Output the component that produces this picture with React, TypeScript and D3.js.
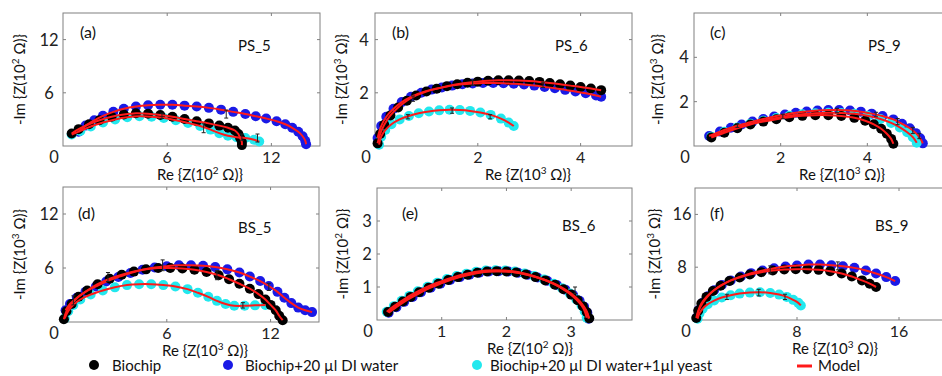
import React from "react";
import * as d3 from "d3";

type P = [number, number];
type E = [number, number, number];

// ---------- Panel (a) PS_5 ----------
const aBlack: P[] = [[0.5,1.4],[0.9,1.9],[1.5,2.45],[2.1,2.9],[2.8,3.3],[3.5,3.55],[4.2,3.7],[4.9,3.65],[5.6,3.5],[6.3,3.3],[7.0,3.05],[7.7,2.8],[8.4,2.55],[9.0,2.3],[9.5,2.05],[9.9,1.75],[10.1,1.35],[10.2,0.9],[10.3,0.45],[10.3,0.1]];
const aBlue: P[] = [[0.9,1.6],[1.3,2.3],[1.8,2.9],[2.3,3.4],[2.9,3.85],[3.5,4.2],[4.2,4.45],[4.9,4.6],[5.6,4.65],[6.3,4.65],[7.0,4.55],[7.7,4.45],[8.4,4.3],[9.1,4.1],[9.8,3.85],[10.5,3.6],[11.1,3.35],[11.7,3.1],[12.3,2.8],[12.8,2.45],[13.2,2.05],[13.55,1.6],[13.8,1.1],[13.95,0.6],[14.0,0.2]];
const aCyan: P[] = [[0.5,1.3],[1.0,1.7],[1.6,2.2],[2.3,2.65],[3.0,3.0],[3.7,3.25],[4.4,3.35],[5.1,3.3],[5.8,3.15],[6.5,2.9],[7.2,2.6],[7.9,2.25],[8.5,1.85],[9.0,1.45],[9.5,1.15],[10.0,1.0],[10.5,0.9],[11.0,0.7],[11.3,0.5]];
const aErr: E[] = [[5.7,3.4,0.3],[8.1,2.0,0.5],[9.4,3.6,0.45],[10.3,1.0,0.35],[11.2,0.9,0.45]];

// ---------- Panel (b) PS_6 ----------
const bBlack: P[] = [[0.05,0.1],[0.1,0.45],[0.18,0.8],[0.3,1.15],[0.45,1.45],[0.62,1.7],[0.8,1.9],[1.0,2.05],[1.2,2.15],[1.4,2.25],[1.6,2.32],[1.8,2.38],[2.0,2.42],[2.2,2.45],[2.4,2.47],[2.6,2.47],[2.8,2.46],[3.0,2.44],[3.2,2.41],[3.4,2.37],[3.6,2.32],[3.8,2.27],[4.0,2.22],[4.2,2.16],[4.4,2.1]];
const bBlue: P[] = [[0.05,0.3],[0.12,0.75],[0.22,1.1],[0.36,1.4],[0.52,1.65],[0.7,1.85],[0.9,2.0],[1.1,2.12],[1.3,2.2],[1.5,2.27],[1.7,2.32],[1.9,2.35],[2.1,2.37],[2.3,2.37],[2.5,2.36],[2.7,2.34],[2.9,2.31],[3.1,2.27],[3.3,2.22],[3.5,2.17],[3.7,2.11],[3.9,2.05],[4.1,1.98],[4.3,1.9],[4.4,1.85]];
const bCyan: P[] = [[0.08,0.05],[0.12,0.35],[0.2,0.6],[0.32,0.82],[0.48,1.0],[0.66,1.13],[0.85,1.23],[1.05,1.3],[1.25,1.34],[1.45,1.36],[1.65,1.35],[1.85,1.32],[2.05,1.26],[2.25,1.17],[2.45,1.03],[2.6,0.88],[2.7,0.75]];
const bErr: E[] = [[0.64,1.1,0.08],[1.5,1.33,0.1],[2.24,1.1,0.08],[0.74,1.78,0.1],[1.9,2.38,0.1],[3.27,2.3,0.1]];

// ---------- Panel (c) PS_9 ----------
const cBlack: P[] = [[0.4,0.38],[0.7,0.6],[1.0,0.8],[1.3,0.97],[1.6,1.1],[1.9,1.21],[2.2,1.3],[2.5,1.36],[2.8,1.39],[3.1,1.39],[3.4,1.35],[3.7,1.27],[3.95,1.14],[4.15,0.98],[4.32,0.78],[4.45,0.55],[4.55,0.32],[4.6,0.1]];
const cBlue: P[] = [[0.35,0.45],[0.6,0.65],[0.85,0.82],[1.1,0.97],[1.35,1.1],[1.6,1.22],[1.85,1.33],[2.1,1.42],[2.35,1.5],[2.6,1.56],[2.85,1.6],[3.1,1.62],[3.35,1.62],[3.6,1.6],[3.85,1.55],[4.1,1.46],[4.35,1.35],[4.6,1.2],[4.8,1.0],[4.98,0.8],[5.12,0.58],[5.22,0.35],[5.28,0.12]];
const cCyan: P[] = [[0.4,0.42],[0.7,0.64],[1.0,0.84],[1.3,1.0],[1.6,1.14],[1.9,1.26],[2.2,1.36],[2.5,1.43],[2.8,1.48],[3.1,1.5],[3.4,1.49],[3.7,1.45],[4.0,1.36],[4.3,1.22],[4.55,1.04],[4.75,0.84],[4.92,0.62],[5.05,0.4],[5.14,0.15]];
const cErr: E[] = [[1.0,0.92,0.08],[2.05,1.33,0.1],[3.3,1.6,0.1],[4.2,1.42,0.1],[4.7,1.1,0.14],[5.05,0.7,0.14],[5.2,0.45,0.12]];

// ---------- Panel (d) BS_5 ----------
const dBlack: P[] = [[0.05,0.3],[0.2,1.2],[0.5,2.0],[0.9,2.8],[1.4,3.5],[2.0,4.2],[2.7,4.8],[3.4,5.25],[4.1,5.6],[4.8,5.85],[5.5,6.0],[6.2,6.0],[6.9,5.95],[7.6,5.8],[8.3,5.55],[9.0,5.2],[9.6,4.75],[10.2,4.25],[10.8,3.7],[11.3,3.1],[11.7,2.5],[12.0,1.9],[12.3,1.3],[12.5,0.7],[12.7,0.2]];
const dBlue: P[] = [[0.15,1.3],[0.4,2.0],[0.8,2.7],[1.3,3.35],[1.9,3.95],[2.5,4.5],[3.2,5.0],[3.9,5.45],[4.6,5.8],[5.3,6.05],[6.0,6.2],[6.7,6.3],[7.4,6.3],[8.1,6.25],[8.8,6.1],[9.5,5.85],[10.2,5.5],[10.8,5.05],[11.4,4.55],[11.9,4.0],[12.4,3.35],[12.8,2.7],[13.2,2.1],[13.6,1.6],[14.0,1.3],[14.4,1.1]];
const dCyan: P[] = [[0.1,0.4],[0.3,1.2],[0.6,1.9],[1.0,2.5],[1.6,3.05],[2.3,3.5],[3.0,3.85],[3.7,4.1],[4.4,4.2],[5.1,4.2],[5.8,4.1],[6.5,3.95],[7.2,3.65],[7.8,3.25],[8.4,2.8],[8.9,2.35],[9.4,2.0],[9.9,1.8],[10.5,1.8],[11.1,1.85],[11.7,1.9]];
const dErr: E[] = [[0.6,2.4,0.5],[2.6,5.0,0.5],[5.76,6.3,0.6],[8.9,5.2,0.5],[10.4,1.85,0.3],[11.9,3.9,0.4]];

// ---------- Panel (e) BS_6 ----------
const eBlack: P[] = [[0.17,0.24],[0.28,0.4],[0.4,0.56],[0.52,0.7],[0.65,0.84],[0.8,0.98],[0.95,1.1],[1.1,1.21],[1.25,1.3],[1.4,1.37],[1.55,1.43],[1.7,1.47],[1.85,1.48],[2.0,1.47],[2.15,1.44],[2.3,1.38],[2.45,1.3],[2.6,1.2],[2.75,1.07],[2.88,0.93],[3.0,0.77],[3.1,0.6],[3.18,0.42],[3.24,0.24],[3.28,0.05]];
const eBlue: P[] = [[0.18,0.22],[0.3,0.39],[0.42,0.55],[0.55,0.7],[0.68,0.84],[0.83,0.98],[0.98,1.1],[1.13,1.21],[1.28,1.3],[1.43,1.37],[1.58,1.43],[1.73,1.47],[1.88,1.48],[2.03,1.47],[2.18,1.43],[2.33,1.37],[2.48,1.29],[2.63,1.19],[2.78,1.06],[2.91,0.92],[3.03,0.76],[3.13,0.58],[3.2,0.4],[3.25,0.22],[3.27,0.04]];
const eCyan: P[] = [[0.15,0.25],[0.26,0.42],[0.38,0.58],[0.5,0.73],[0.63,0.87],[0.78,1.01],[0.93,1.13],[1.08,1.24],[1.23,1.33],[1.38,1.4],[1.53,1.46],[1.68,1.5],[1.83,1.51],[1.98,1.5],[2.13,1.47],[2.28,1.41],[2.43,1.33],[2.58,1.23],[2.73,1.1],[2.86,0.96],[2.98,0.8],[3.08,0.62],[3.16,0.44],[3.21,0.26],[3.24,0.07]];
const eErr: E[] = [[3.06,0.9,0.1]];

// ---------- Panel (f) BS_9 ----------
const fBlack: P[] = [[0.1,0.3],[0.25,1.4],[0.5,2.5],[0.9,3.5],[1.4,4.4],[2.0,5.2],[2.7,5.9],[3.5,6.45],[4.3,6.9],[5.2,7.25],[6.1,7.5],[7.0,7.65],[7.9,7.7],[8.8,7.7],[9.7,7.6],[10.6,7.4],[11.5,7.05],[12.3,6.6],[13.1,6.0],[13.7,5.5],[14.2,5.0]];
const fBlue: P[] = [[0.15,0.4],[0.3,1.5],[0.6,2.6],[1.0,3.6],[1.5,4.5],[2.1,5.3],[2.8,6.0],[3.6,6.6],[4.4,7.1],[5.3,7.5],[6.2,7.85],[7.1,8.1],[8.0,8.25],[8.9,8.4],[9.8,8.4],[10.7,8.3],[11.6,8.15],[12.5,7.9],[13.4,7.5],[14.2,7.05],[15.0,6.5],[15.7,5.9]];
const fCyan: P[] = [[0.2,0.2],[0.35,1.0],[0.6,1.7],[1.0,2.4],[1.5,2.95],[2.1,3.4],[2.8,3.75],[3.5,4.0],[4.3,4.15],[5.1,4.2],[5.9,4.1],[6.6,3.85],[7.2,3.5],[7.7,3.05],[8.1,2.6],[8.3,2.2]];
const fErr: E[] = [[2.5,3.5,0.4],[5.0,4.15,0.5],[7.06,3.5,0.4],[5.9,7.6,0.6],[11.2,8.2,0.6]];

// ---------- Labels ----------
const panelLetters = ["(a)", "(b)", "(c)", "(d)", "(e)", "(f)"];
const panelNames = ["PS_5", "PS_6", "PS_9", "BS_5", "BS_6", "BS_9"];
const panelExp = ["2", "3", "3", "3", "2", "3"];
const xTicks = [[6, 12], [2, 4], [2, 4], [6, 12], [1, 2, 3], [8, 16]];
const yTicks = [[6, 12], [2, 4], [2, 4], [6, 12], [1, 2, 3], [8, 16]];
const xMax = [14.8, 5, 6, 14.8, 3.94, 20];
const yMax = [15, 5, 6, 15, 4, 20];
const legendLabels = ["Biochip", "Biochip+20 µl DI water", "Biochip+20 µl DI water+1µl yeast", "Model"];

const COLORS = { black: "#000000", blue: "#1a1ae6", cyan: "#22e8ee", red: "#ff1a1a", axis: "#808080" };
const FONT = "Lato, 'Open Sans', sans-serif";

const seriesData = [
  { black: aBlack, blue: aBlue, cyan: aCyan, err: aErr },
  { black: bBlack, blue: bBlue, cyan: bCyan, err: bErr },
  { black: cBlack, blue: cBlue, cyan: cCyan, err: cErr },
  { black: dBlack, blue: dBlue, cyan: dCyan, err: dErr },
  { black: eBlack, blue: eBlue, cyan: eCyan, err: eErr },
  { black: fBlack, blue: fBlue, cyan: fCyan, err: fErr },
];

const boxes: [number, number, number, number][] = [
  [63, 13, 257, 133],
  [375, 13, 257, 133],
  [694, 13, 260, 133],
  [63, 187, 256, 135],
  [377, 188, 255, 132],
  [695, 188, 255, 132],
];
const yLabelX = [20, 342, 658, 20, 343, 655];
const xLabelCX = [200, 528, 842, 205, 530, 835];
const letterPos: [number, number][] = [[80, 38], [392, 38], [710, 38], [78, 219], [402, 219], [710, 219]];
const namePos: [number, number][] = [[238, 51], [555, 51], [868, 51], [238, 233], [562, 231], [875, 231]];
const tickLabelOff = [14, 11, 10, 14, 10, 13];

function AxisLabel({ prefix, exp }: { prefix: string; exp: string }) {
  return (
    <>
      {prefix + " {Z(10"}
      <tspan dy={-6} fontSize={10}>{exp}</tspan>
      <tspan dy={6}>{" Ω)}"}</tspan>
    </>
  );
}

function Panel({ i }: { i: number }) {
  const [L, T, W, H] = boxes[i];
  const x = d3.scaleLinear().domain([0, xMax[i]]).range([L, L + W]);
  const y = d3.scaleLinear().domain([0, yMax[i]]).range([T + H, T]);
  const line = d3.line<P>().x((p) => x(p[0])).y((p) => y(p[1])).curve(d3.curveCatmullRom.alpha(0.5));
  const s = seriesData[i];
  const order: [P[], string][] = [[s.blue, COLORS.blue], [s.cyan, COLORS.cyan], [s.black, COLORS.black]];
  const r = 5;
  const exp = panelExp[i];
  const tl = 3;
  return (
    <g>
      <rect x={L} y={T} width={W} height={H} fill="none" stroke={COLORS.axis} strokeWidth={1} />
      {xTicks[i].map((t) => (
        <g key={"xt" + t}>
          <line x1={x(t)} x2={x(t)} y1={T + H} y2={T + H - tl} stroke={COLORS.axis} />
          <line x1={x(t)} x2={x(t)} y1={T} y2={T + tl} stroke={COLORS.axis} />
          <text x={x(t)} y={T + H + 17} textAnchor="middle" fontSize={16} fontFamily={FONT} fill="#222">{t}</text>
        </g>
      ))}
      {yTicks[i].map((t) => (
        <g key={"yt" + t}>
          <line x1={L} x2={L + tl} y1={y(t)} y2={y(t)} stroke={COLORS.axis} />
          <line x1={L + W} x2={L + W - tl} y1={y(t)} y2={y(t)} stroke={COLORS.axis} />
          <text x={L - tickLabelOff[i]} y={y(t) + 6} textAnchor="middle" fontSize={16.5} fontFamily={FONT} fill="#222">{t}</text>
        </g>
      ))}
      <text x={L - 9} y={T + H + 17} textAnchor="middle" fontSize={16.5} fontFamily={FONT} fill="#222">0</text>
      {order.map(([pts, c], k) => (
        <g key={"s" + k}>
          {pts.map((p, j) => (
            <circle key={j} cx={x(p[0])} cy={y(p[1])} r={r} fill={c} />
          ))}
        </g>
      ))}
      {order.map(([pts], k) => (
        <path key={"m" + k} d={line(pts) || ""} fill="none" stroke={COLORS.red} strokeWidth={2} />
      ))}
      {s.err.map((e, k) => (
        <g key={"e" + k} stroke="#222" strokeWidth={1}>
          <line x1={x(e[0])} x2={x(e[0])} y1={y(e[1] - e[2])} y2={y(e[1] + e[2])} />
          <line x1={x(e[0]) - 2} x2={x(e[0]) + 2} y1={y(e[1] - e[2])} y2={y(e[1] - e[2])} />
          <line x1={x(e[0]) - 2} x2={x(e[0]) + 2} y1={y(e[1] + e[2])} y2={y(e[1] + e[2])} />
        </g>
      ))}
      <text x={letterPos[i][0]} y={letterPos[i][1]} fontSize={16} fontFamily={FONT} fill="#111">{panelLetters[i]}</text>
      <text x={namePos[i][0]} y={namePos[i][1]} fontSize={15} fontFamily={FONT} fill="#111">{panelNames[i]}</text>
      <text x={xLabelCX[i]} y={T + H + 34} textAnchor="middle" fontSize={15} fontFamily={FONT} fill="#111">
        <AxisLabel prefix="Re" exp={exp} />
      </text>
      <text transform={`translate(${yLabelX[i] + 5},${T + H / 2}) rotate(-90)`} textAnchor="middle" fontSize={15} fontFamily={FONT} fill="#111">
        <AxisLabel prefix="-Im" exp={exp} />
      </text>
    </g>
  );
}

export default function App() {
  const ly = 366;
  return (
    <svg width={942} height={376} style={{ position: "absolute", left: 0, top: 0, background: "#fff" }}>
      <rect x={0} y={0} width={942} height={376} fill="#fff" />
      {[0, 1, 2, 3, 4, 5].map((i) => (
        <Panel key={i} i={i} />
      ))}
      <g fontFamily={FONT} fontSize={15} fill="#111">
        <circle cx={94} cy={ly - 1} r={5} fill={COLORS.black} />
        <text x={112} y={ly + 5}>{legendLabels[0]}</text>
        <circle cx={228} cy={ly - 1} r={5} fill={COLORS.blue} />
        <text x={245} y={ly + 5}>{legendLabels[1]}</text>
        <circle cx={477} cy={ly - 1} r={5} fill={COLORS.cyan} />
        <text x={490} y={ly + 5}>{legendLabels[2]}</text>
        <line x1={797} x2={812} y1={ly} y2={ly} stroke={COLORS.red} strokeWidth={3} />
        <text x={818} y={ly + 5}>{legendLabels[3]}</text>
      </g>
    </svg>
  );
}
